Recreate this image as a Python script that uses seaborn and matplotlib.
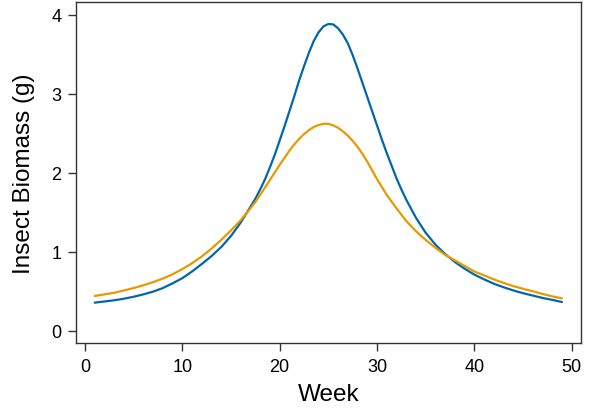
import numpy as np
import pandas as pd
import matplotlib
matplotlib.use("Agg")
import matplotlib.pyplot as plt
import seaborn as sns

weeks = ([float(w) for w in range(1, 17)]
         + [17 + 0.5 * i for i in range(33)]
         + [float(w) for w in range(34, 50)])
blue_biomass = [0.355, 0.37, 0.385, 0.405, 0.43, 0.46, 0.495, 0.54, 0.60, 0.665,
                0.75, 0.845, 0.945, 1.06, 1.20, 1.37,
                1.57, 1.67, 1.79, 1.92, 2.07, 2.23, 2.41, 2.59, 2.78, 2.97,
                3.17, 3.35, 3.52, 3.67, 3.78, 3.855, 3.885, 3.88, 3.83, 3.75,
                3.64, 3.49, 3.32, 3.14, 2.96, 2.78, 2.60, 2.42, 2.25, 2.09,
                1.93, 1.79, 1.66,
                1.43, 1.24, 1.09, 0.97, 0.87, 0.785, 0.71, 0.65, 0.595, 0.55,
                0.51, 0.475, 0.445, 0.415, 0.39, 0.363]
orange_biomass = [0.44, 0.46, 0.48, 0.51, 0.54, 0.575, 0.615, 0.66, 0.715, 0.78,
                  0.855, 0.94, 1.04, 1.15, 1.27, 1.40,
                  1.55, 1.63, 1.72, 1.815, 1.91, 2.005, 2.10, 2.19, 2.28, 2.36,
                  2.43, 2.49, 2.54, 2.58, 2.605, 2.62, 2.62, 2.60, 2.57, 2.525,
                  2.47, 2.405, 2.33, 2.24, 2.14, 2.03, 1.92, 1.82, 1.72, 1.635,
                  1.55, 1.47, 1.39,
                  1.26, 1.15, 1.05, 0.96, 0.89, 0.82, 0.75, 0.70, 0.65, 0.605,
                  0.565, 0.53, 0.50, 0.465, 0.435, 0.41]
series_names = ["A", "B"]
x_ticks = [0, 10, 20, 30, 40, 50]
y_ticks = [0, 1, 2, 3, 4]

df = pd.DataFrame({
    "Week": weeks * 2,
    "Biomass": blue_biomass + orange_biomass,
    "Series": [series_names[0]] * len(weeks) + [series_names[1]] * len(weeks),
})

sns.set_theme(style="ticks")
plt.rcParams["font.family"] = ["Liberation Sans", "DejaVu Sans"]

fig = plt.figure(figsize=(6.0, 4.1), dpi=100)
ax = fig.add_axes([0.1267, 0.1602, 0.9678 - 0.1267, 0.992 - 0.1602])

sns.lineplot(data=df, x="Week", y="Biomass", hue="Series",
             palette={"A": "#0066AE", "B": "#E69A00"},
             linewidth=1.6, legend=False, ax=ax, zorder=3)
ax.set_xlim(1 - 0.04 * 48, 49 + 0.04 * 48)
ax.set_ylim(-0.16, 4.16)
ax.set_xticks(x_ticks)
ax.set_yticks(y_ticks)
ax.set_xticklabels([str(t) for t in x_ticks])
ax.set_yticklabels([str(t) for t in y_ticks])

for s in ax.spines.values():
    s.set_visible(True)
    s.set_color("#333333")
    s.set_linewidth(1.0)
ax.tick_params(axis="both", direction="out", length=5.5, width=1.0,
               color="#333333", labelsize=13, pad=5, labelcolor="black")
ax.set_xlabel("Week", fontsize=17.5, labelpad=6, color="black")
ax.set_ylabel("Insect Biomass (g)", fontsize=17.5, labelpad=12, color="black")

fig.savefig("out.png", dpi=100)
